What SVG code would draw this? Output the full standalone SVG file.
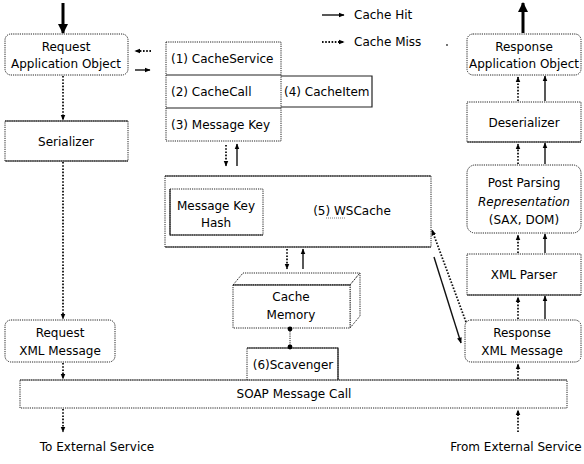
<svg xmlns="http://www.w3.org/2000/svg" width="584" height="464" viewBox="0 0 584 464">
  <style>
    text { font-family: "DejaVu Sans", Verdana, sans-serif; font-size: 12px; fill: #000; }
    .c { text-anchor: middle; }
    .box { fill: #fff; stroke: #222; stroke-width: 1; stroke-dasharray: 1.2 1; }
    .edge { fill: none; stroke: #222; stroke-width: 1.2; }
    .hit { fill: none; stroke: #111; stroke-width: 1.4; }
    .miss { fill: none; stroke: #111; stroke-width: 1.8; stroke-dasharray: 1.6 1.6; }
    .thick { fill: none; stroke: #000; stroke-width: 3; }
  </style>
  <defs>
    <marker id="ah" viewBox="0 0 10 10" refX="9" refY="5" markerWidth="6" markerHeight="6" markerUnits="userSpaceOnUse" orient="auto">
      <path d="M0,1 L10,5 L0,9 z" fill="#000"/>
    </marker>
    <marker id="ahBig" viewBox="0 0 10 10" refX="9" refY="5" markerWidth="12" markerHeight="10" markerUnits="userSpaceOnUse" orient="auto">
      <path d="M0,0 L10,5 L0,10 z" fill="#000"/>
    </marker>
  </defs>

  <!-- legend -->
  <g id="legend">
    <line class="hit" x1="322" y1="15" x2="344" y2="15" marker-end="url(#ah)"/>
    <text x="354" y="19">Cache Hit</text>
    <line class="miss" x1="322" y1="42" x2="344" y2="42" marker-end="url(#ah)"/>
    <text x="354" y="46">Cache Miss</text>
    <circle cx="447" cy="45" r="0.9" fill="#333"/>
  </g>

  <!-- left column: request path -->
  <g id="request-app-object">
    <rect class="box" x="5" y="34" width="123" height="41" rx="6"/>
    <text class="c" x="66" y="51">Request</text>
    <text class="c" x="66" y="68">Application Object</text>
  </g>
  <g id="serializer">
    <rect class="box" x="5" y="121" width="123" height="40"/>
    <line class="edge" x1="5" y1="121" x2="128" y2="121"/>
    <line class="edge" x1="5" y1="161" x2="128" y2="161"/>
    <text class="c" x="66" y="146">Serializer</text>
  </g>
  <g id="request-xml-message">
    <rect class="box" x="5" y="320" width="110" height="42" rx="6"/>
    <text class="c" x="60" y="337">Request</text>
    <text class="c" x="60" y="355">XML Message</text>
  </g>

  <!-- cache service stack -->
  <g id="cache-service">
    <rect class="box" x="166" y="42" width="115" height="99"/>
    <line class="edge" x1="166" y1="75" x2="281" y2="75"/>
    <line class="edge" x1="166" y1="108" x2="281" y2="108"/>
    <text x="171" y="63">(1) CacheService</text>
    <text x="171" y="96">(2) CacheCall</text>
    <text x="171" y="129">(3) Message Key</text>
  </g>
  <g id="cache-item">
    <path class="edge" d="M281,76 H372 V107 H281"/>
    <text x="284" y="96">(4) CacheItem</text>
  </g>

  <!-- WSCache -->
  <g id="wscache">
    <rect class="box" x="165" y="176" width="266" height="71"/>
    <line class="edge" x1="165" y1="176" x2="431" y2="176"/>
    <line class="edge" x1="165" y1="247" x2="431" y2="247"/>
    <text class="c" x="352" y="215">(5) WSCache</text>
    <line x1="326" y1="218" x2="346" y2="218" stroke="#555" stroke-width="0.8" stroke-dasharray="1 1"/>
  </g>
  <g id="message-key-hash">
    <rect class="box" x="170" y="189" width="93" height="46"/>
    <path class="edge" d="M170,189 V235 H263"/>
    <text class="c" x="216" y="210">Message Key</text>
    <text class="c" x="216" y="227">Hash</text>
  </g>

  <!-- cache memory block -->
  <g id="cache-memory">
    <polygon class="box" points="233,285 243,273 360,273 350,285"/>
    <polygon class="box" points="350,285 360,273 360,316 350,328"/>
    <rect class="box" x="233" y="285" width="117" height="43"/>
    <line class="edge" x1="233" y1="285" x2="350" y2="285"/>
    <text class="c" x="291" y="301">Cache</text>
    <text class="c" x="291" y="319">Memory</text>
  </g>
  <g id="scavenger">
    <rect class="box" x="247" y="348" width="91" height="33"/>
    <path class="edge" d="M247,348 H338 V381"/>
    <text class="c" x="293" y="369">(6)Scavenger</text>
  </g>

  <!-- SOAP call bar -->
  <g id="soap-message-call">
    <rect class="box" x="20" y="380" width="547" height="28"/>
    <line class="edge" x1="20" y1="380" x2="567" y2="380" stroke-opacity="0.6"/>
    <text class="c" x="294" y="398">SOAP Message Call</text>
  </g>
  <g id="external-labels">
    <text class="c" x="97" y="451">To External Service</text>
    <text class="c" x="516" y="451">From External Service</text>
  </g>

  <!-- right column: response path -->
  <g id="response-app-object">
    <rect class="box" x="467" y="34" width="114" height="41" rx="6"/>
    <text class="c" x="524" y="51">Response</text>
    <text class="c" x="524" y="68">Application Object</text>
  </g>
  <g id="deserializer">
    <rect class="box" x="467" y="102" width="114" height="40"/>
    <line class="edge" x1="467" y1="142" x2="581" y2="142"/>
    <text class="c" x="524" y="127">Deserializer</text>
  </g>
  <g id="post-parsing">
    <rect class="box" x="467" y="165" width="114" height="68" rx="8"/>
    <text class="c" x="524" y="187">Post Parsing</text>
    <text class="c" x="524" y="206" font-style="italic">Representation</text>
    <text class="c" x="524" y="224">(SAX, DOM)</text>
  </g>
  <g id="xml-parser">
    <rect class="box" x="467" y="254" width="114" height="41"/>
    <line class="edge" x1="467" y1="295" x2="581" y2="295"/>
    <text class="c" x="524" y="279">XML Parser</text>
  </g>
  <g id="response-xml-message">
    <rect class="box" x="465" y="320" width="116" height="42" rx="6"/>
    <text class="c" x="522" y="337">Response</text>
    <text class="c" x="522" y="355">XML Message</text>
  </g>

  <!-- connectors -->
  <g id="connectors">
    <line class="thick" x1="63" y1="3" x2="63" y2="33" marker-end="url(#ahBig)"/>
    <line class="miss" x1="63" y1="76" x2="63" y2="120" marker-end="url(#ah)"/>
    <line class="miss" x1="63" y1="162" x2="63" y2="319" marker-end="url(#ah)"/>
    <line class="miss" x1="63" y1="363" x2="63" y2="379" marker-end="url(#ah)"/>
    <line class="miss" x1="63" y1="409" x2="63" y2="432" marker-end="url(#ah)"/>

    <line class="miss" x1="151" y1="51" x2="135" y2="51" marker-end="url(#ah)"/>
    <line class="hit" x1="135" y1="70" x2="150" y2="70" marker-end="url(#ah)"/>

    <line class="miss" x1="226" y1="145" x2="226" y2="166" marker-end="url(#ah)"/>
    <line class="hit" x1="237" y1="166" x2="237" y2="144" marker-end="url(#ah)"/>

    <line class="miss" x1="287" y1="249" x2="287" y2="269" marker-end="url(#ah)"/>
    <line class="hit" x1="303" y1="269" x2="303" y2="249" marker-end="url(#ah)"/>

    <line x1="290" y1="329" x2="290" y2="347" stroke="#222" stroke-width="1" stroke-dasharray="1.2 1"/>
    <circle cx="290" cy="329" r="2.4" fill="#000"/>
    <circle cx="290" cy="347" r="2.4" fill="#000"/>

    <line class="hit" x1="434" y1="257" x2="461" y2="343" marker-end="url(#ah)"/>
    <line class="miss" x1="466" y1="322" x2="432" y2="230" marker-end="url(#ah)"/>

    <line class="thick" x1="523" y1="33" x2="523" y2="3" marker-end="url(#ahBig)"/>
    <line class="miss" x1="518" y1="101" x2="518" y2="77" marker-end="url(#ah)"/>
    <line class="hit" x1="545" y1="101" x2="545" y2="76" marker-end="url(#ah)"/>
    <line class="miss" x1="518" y1="164" x2="518" y2="144" marker-end="url(#ah)"/>
    <line class="hit" x1="545" y1="164" x2="545" y2="143" marker-end="url(#ah)"/>
    <line class="miss" x1="518" y1="253" x2="518" y2="235" marker-end="url(#ah)"/>
    <line class="hit" x1="545" y1="253" x2="545" y2="234" marker-end="url(#ah)"/>
    <line class="miss" x1="518" y1="319" x2="518" y2="297" marker-end="url(#ah)"/>
    <line class="hit" x1="545" y1="319" x2="545" y2="296" marker-end="url(#ah)"/>
    <line class="miss" x1="518" y1="379" x2="518" y2="364" marker-end="url(#ah)"/>
    <line class="miss" x1="518" y1="432" x2="518" y2="410" marker-end="url(#ah)"/>
  </g>
</svg>
